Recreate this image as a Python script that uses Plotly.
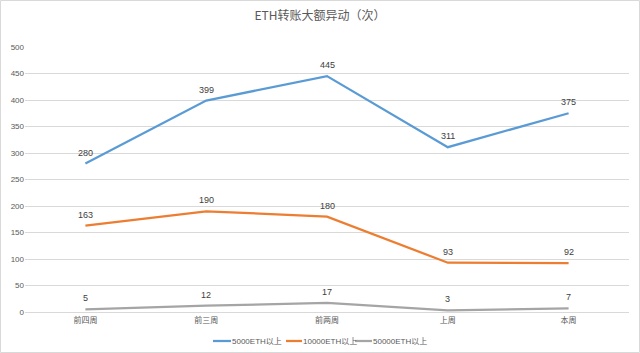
import plotly.graph_objects as go

categories = ["前四周", "前三周", "前两周", "上周", "本周"]
series_names = ["5000ETH以上", "10000ETH以上", "50000ETH以上"]
s5000 = [280, 399, 445, 311, 375]
s10000 = [163, 190, 180, 93, 92]
s50000 = [5, 12, 17, 3, 7]
colors = ["#5B9BD5", "#ED7D31", "#A5A5A5"]
y_ticks = [0, 50, 100, 150, 200, 250, 300, 350, 400, 450, 500]

L, R, T, B = 25, 11, 47, 41
W, H = 640, 353
PW, PH = W - L - R, H - T - B


def px_x(px):
    return (px - L) / PW


def px_y(py):
    return (H - B - py) / PH


fig = go.Figure()
annotations = []
for name, vals, c in zip(series_names, [s5000, s10000, s50000], colors):
    fig.add_trace(go.Scatter(
        x=categories, y=vals, name=name, mode="lines",
        line=dict(color=c, width=2.25), showlegend=False,
    ))
    for cat, v in zip(categories, vals):
        annotations.append(dict(x=cat, y=v, xref="x", yref="y", text=str(v),
                                showarrow=False, yshift=11, yanchor="middle",
                                font=dict(size=9, color="#404040",
                                          family="Liberation Sans, Arial")))

# custom compact legend (layout only)
legend_line_x = [(213, 231), (286, 302), (355, 372)]
legend_y = 341
shapes = []
for (x0, x1), name, c in zip(legend_line_x, series_names, colors):
    shapes.append(dict(type="line", xref="paper", yref="paper",
                       x0=px_x(x0), x1=px_x(x1), y0=px_y(legend_y), y1=px_y(legend_y),
                       line=dict(color=c, width=2.25)))
    annotations.append(dict(x=px_x(x1), y=px_y(legend_y), xref="paper", yref="paper",
                            text=name, showarrow=False, xanchor="left", yanchor="middle",
                            borderpad=0,
                            font=dict(size=8, color="#595959",
                                      family="Liberation Sans, Noto Sans CJK SC")))

shapes.append(dict(type="rect", xref="paper", yref="paper",
                   x0=px_x(0.5), x1=px_x(W - 0.5), y0=px_y(H - 0.5), y1=px_y(0.5),
                   line=dict(color="#D9D9D9", width=1)))

fig.update_layout(
    width=W, height=H,
    margin=dict(l=L, r=R, t=T, b=B, autoexpand=False),
    paper_bgcolor="white", plot_bgcolor="white",
    title=dict(text="ETH转账大额异动（次）", x=0.5, xanchor="center", y=0.955, yanchor="middle",
               font=dict(size=12, color="#595959", family="Noto Sans CJK SC")),
    font=dict(family="Liberation Sans, Noto Sans CJK SC", color="#595959", size=8),
    showlegend=False,
    annotations=annotations,
    shapes=shapes,
    xaxis=dict(showgrid=False, showline=True, linecolor="#D9D9D9", linewidth=1,
               range=[-0.5, 4.5], automargin=False,
               ticks="", ticklen=0,
               tickfont=dict(size=8, color="#595959", family="Noto Sans CJK SC"),
               fixedrange=True),
    yaxis=dict(range=[0, 500], tickvals=y_ticks, showgrid=True, gridcolor="#D9D9D9",
               gridwidth=1, zeroline=False, ticks="", ticklen=0, automargin=False,
               tickfont=dict(size=8, color="#595959"), fixedrange=True),
)

fig.write_html("out.html")
